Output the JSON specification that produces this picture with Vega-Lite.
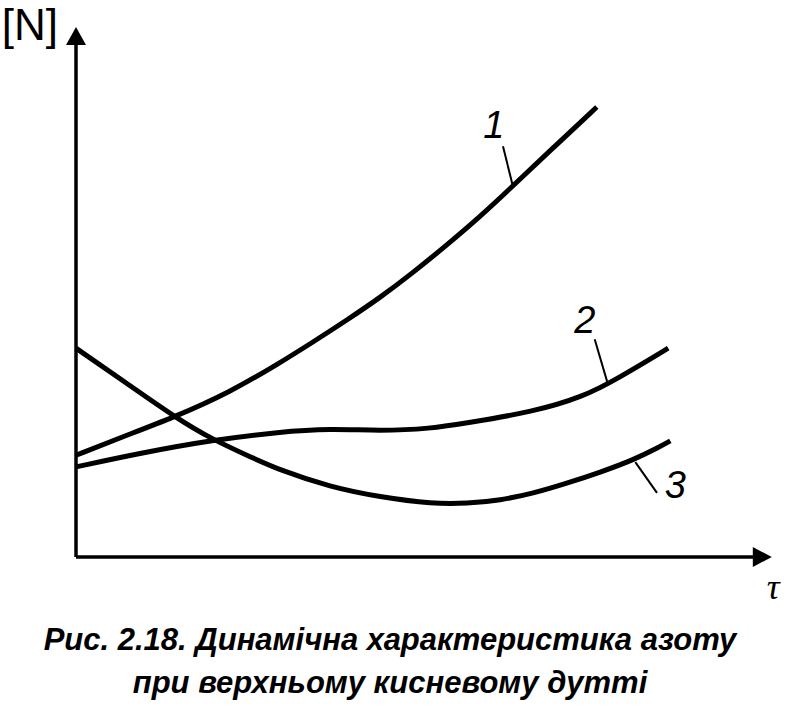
{
  "$schema": "https://vega.github.io/schema/vega-lite/v6.json",
  "width": 700,
  "height": 530,
  "autosize": {"type": "none"},
  "padding": {"left": 76, "top": 27, "right": 33, "bottom": 160},
  "background": "white",
  "config": {"view": {"stroke": null}, "axis": {"grid": false}},
  "title": {
    "text": ["Рис. 2.18. Динамічна характеристика азоту", "при верхньому кисневому дутті"],
    "orient": "bottom",
    "anchor": "middle",
    "font": "Liberation Sans",
    "fontSize": 31,
    "fontWeight": "bold",
    "fontStyle": "italic",
    "color": "black",
    "lineHeight": 43,
    "offset": 20,
    "dx": -36
  },
  "datasets": {
    "one": [{}],
    "curves": [
      {"s": "1", "t": 0, "n": 1.92},
      {"s": "1", "t": 0.63, "n": 2.25},
      {"s": "1", "t": 1.41, "n": 2.64},
      {"s": "1", "t": 2.2, "n": 3.11},
      {"s": "1", "t": 2.91, "n": 3.66},
      {"s": "1", "t": 3.39, "n": 4.06},
      {"s": "1", "t": 3.87, "n": 4.47},
      {"s": "1", "t": 4.34, "n": 4.89},
      {"s": "1", "t": 4.81, "n": 5.36},
      {"s": "1", "t": 5.3, "n": 5.89},
      {"s": "1", "t": 5.77, "n": 6.42},
      {"s": "1", "t": 6.24, "n": 7.0},
      {"s": "1", "t": 6.84, "n": 7.75},
      {"s": "1", "t": 7.44, "n": 8.49},
      {"s": "2", "t": 0, "n": 1.7},
      {"s": "2", "t": 0.91, "n": 1.96},
      {"s": "2", "t": 1.96, "n": 2.21},
      {"s": "2", "t": 2.91, "n": 2.36},
      {"s": "2", "t": 3.63, "n": 2.42},
      {"s": "2", "t": 4.34, "n": 2.38},
      {"s": "2", "t": 5.06, "n": 2.42},
      {"s": "2", "t": 5.59, "n": 2.53},
      {"s": "2", "t": 6.53, "n": 2.74},
      {"s": "2", "t": 7.24, "n": 3.02},
      {"s": "2", "t": 7.73, "n": 3.36},
      {"s": "2", "t": 8.46, "n": 3.94},
      {"s": "3", "t": 0, "n": 3.94},
      {"s": "3", "t": 0.7, "n": 3.3},
      {"s": "3", "t": 1.41, "n": 2.64},
      {"s": "3", "t": 1.96, "n": 2.21},
      {"s": "3", "t": 2.49, "n": 1.89},
      {"s": "3", "t": 2.91, "n": 1.64},
      {"s": "3", "t": 3.63, "n": 1.32},
      {"s": "3", "t": 4.34, "n": 1.13},
      {"s": "3", "t": 5.1, "n": 1.0},
      {"s": "3", "t": 5.59, "n": 1.01},
      {"s": "3", "t": 6.06, "n": 1.07},
      {"s": "3", "t": 6.53, "n": 1.2},
      {"s": "3", "t": 7.01, "n": 1.39},
      {"s": "3", "t": 7.49, "n": 1.6},
      {"s": "3", "t": 7.96, "n": 1.83},
      {"s": "3", "t": 8.34, "n": 2.08},
      {"s": "3", "t": 8.49, "n": 2.19}
    ],
    "leaders": [
      {"s": "1", "t": 6.1, "n": 7.75, "t2": 6.24, "n2": 7.0},
      {"s": "2", "t": 7.41, "n": 4.11, "t2": 7.59, "n2": 3.3},
      {"s": "3", "t": 7.99, "n": 1.79, "t2": 8.3, "n2": 1.21}
    ],
    "nums": [
      {"label": "1", "t": 5.97, "n": 8.11},
      {"label": "2", "t": 7.27, "n": 4.43},
      {"label": "3", "t": 8.56, "n": 1.32}
    ],
    "ylab": [{"label": "[N]", "t": -0.66, "n": 10.0}],
    "xlab": [{"label": "τ", "t": 9.96, "n": -0.58}]
  },
  "layer": [
    {
      "data": {"name": "one"},
      "mark": {"type": "rule", "color": "black", "strokeWidth": 3.5},
      "encoding": {
        "x": {"datum": 0, "type": "quantitative", "scale": {"domain": [0, 10], "nice": false, "zero": false}, "axis": null},
        "y": {"datum": 0, "type": "quantitative", "scale": {"domain": [0, 10], "nice": false, "zero": false}, "axis": null},
        "y2": {"datum": 9.8}
      }
    },
    {
      "data": {"name": "one"},
      "mark": {"type": "rule", "color": "black", "strokeWidth": 3.5},
      "encoding": {
        "x": {"datum": 0, "type": "quantitative", "axis": null},
        "x2": {"datum": 9.7},
        "y": {"datum": 0, "type": "quantitative", "axis": null}
      }
    },
    {
      "data": {"name": "one"},
      "mark": {"type": "point", "shape": "M0,0L1,1.8L-1,1.8Z", "size": 400, "filled": true, "color": "black", "opacity": 1, "strokeWidth": 0},
      "encoding": {
        "x": {"datum": 0, "type": "quantitative", "axis": null},
        "y": {"datum": 10, "type": "quantitative", "axis": null}
      }
    },
    {
      "data": {"name": "one"},
      "mark": {"type": "point", "shape": "M0,0L-1.9,-1L-1.9,1Z", "size": 400, "filled": true, "color": "black", "opacity": 1, "strokeWidth": 0},
      "encoding": {
        "x": {"datum": 9.94, "type": "quantitative", "axis": null},
        "y": {"datum": 0, "type": "quantitative", "axis": null}
      }
    },
    {
      "data": {"name": "curves"},
      "mark": {"type": "line", "color": "black", "strokeWidth": 5, "interpolate": "basis"},
      "encoding": {
        "x": {"field": "t", "type": "quantitative", "axis": null},
        "y": {"field": "n", "type": "quantitative", "axis": null},
        "detail": {"field": "s"}
      }
    },
    {
      "data": {"name": "leaders"},
      "mark": {"type": "rule", "color": "black", "strokeWidth": 2},
      "encoding": {
        "x": {"field": "t", "type": "quantitative", "axis": null},
        "y": {"field": "n", "type": "quantitative", "axis": null},
        "x2": {"field": "t2"},
        "y2": {"field": "n2"}
      }
    },
    {
      "data": {"name": "nums"},
      "mark": {"type": "text", "font": "Liberation Sans Narrow, Liberation Sans", "fontSize": 38, "fontStyle": "italic", "color": "black", "align": "center", "baseline": "middle"},
      "encoding": {
        "x": {"field": "t", "type": "quantitative", "axis": null},
        "y": {"field": "n", "type": "quantitative", "axis": null},
        "text": {"field": "label"}
      }
    },
    {
      "data": {"name": "ylab"},
      "mark": {"type": "text", "font": "Liberation Sans Narrow, Liberation Sans", "fontSize": 44, "color": "black", "align": "center", "baseline": "middle"},
      "encoding": {
        "x": {"field": "t", "type": "quantitative", "axis": null},
        "y": {"field": "n", "type": "quantitative", "axis": null},
        "text": {"field": "label"}
      }
    },
    {
      "data": {"name": "xlab"},
      "mark": {"type": "text", "font": "Liberation Serif", "fontSize": 36, "fontStyle": "italic", "color": "black", "align": "center", "baseline": "middle"},
      "encoding": {
        "x": {"field": "t", "type": "quantitative", "axis": null},
        "y": {"field": "n", "type": "quantitative", "axis": null},
        "text": {"field": "label"}
      }
    }
  ]
}
